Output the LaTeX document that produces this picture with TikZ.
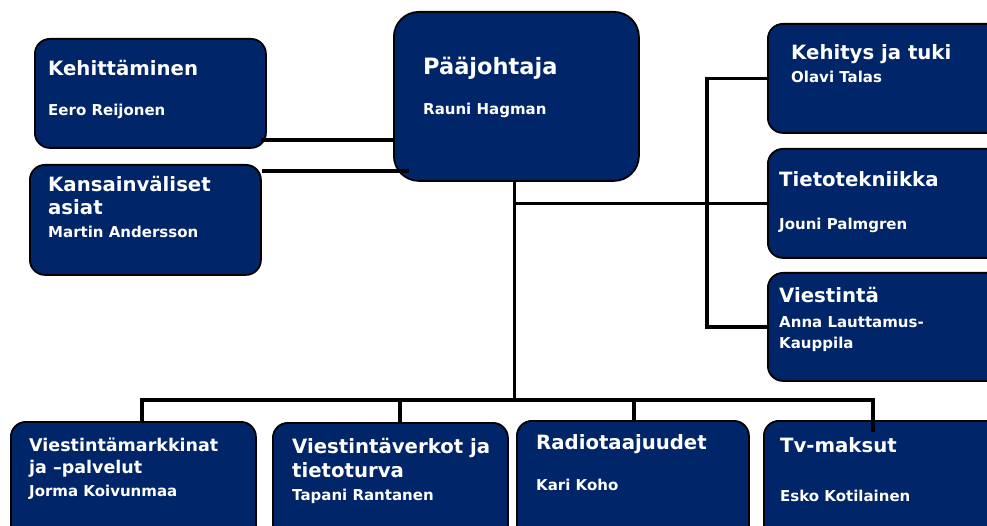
\documentclass[tikz,border=0pt]{standalone}
\usepackage{fontspec}
\setmainfont{DejaVu Sans}
\usetikzlibrary{positioning}
\definecolor{navy}{RGB}{0,37,104}
\tikzset{
  unit/.style={draw=black, line width=1.8pt, fill=navy, rounded corners=15pt,
    anchor=north west, inner sep=0pt},
  head/.style={text=white, font=\bfseries\fontsize{19.7}{23}\selectfont,
    anchor=base west, inner sep=0pt},
  who/.style={text=white, font=\bfseries\fontsize{15}{18}\selectfont,
    anchor=base west, inner sep=0pt},
  link/.style={draw=black, line width=3.6pt}
}
\begin{document}
\begin{tikzpicture}[x=1pt, y=-1pt]
  \clip (0,0) rectangle (987,526);
  \useasboundingbox (0,0) rectangle (987,526);

  % boxes
  \node[unit, minimum width=231pt, minimum height=109pt] (keh) at (34,38) {};
  \node[unit, minimum width=231pt, minimum height=110pt] (kan) at (29,164) {};
  \node[unit, rounded corners=25pt, minimum width=245pt, minimum height=169pt] (pj) at (393,11) {};
  \node[unit, minimum width=240pt, minimum height=109pt] (kt) at (767,23) {};
  \node[unit, minimum width=240pt, minimum height=109pt] (tt) at (767,148) {};
  \node[unit, minimum width=240pt, minimum height=108pt] (vi) at (767,272) {};
  \node[unit, minimum width=245pt, minimum height=120pt] (vm) at (10,421) {};
  \node[unit, minimum width=235pt, minimum height=120pt] (vv) at (272,422) {};
  \node[unit, minimum width=232pt, minimum height=120pt] (rt) at (516,420) {};
  \node[unit, minimum width=240pt, minimum height=120pt] (tv) at (763,420) {};

  % texts
  \node[head] (kehT) at (48,76) {Kehittäminen};
  \node[who] (kehN) at (48,116) {Eero Reijonen};
  \node[head] (kanT1) at (48,192) {Kansainväliset};
  \node[head] (kanT2) at (48,215) {asiat};
  \node[who] (kanN) at (48,238) {Martin Andersson};
  \node[head, font=\bfseries\fontsize{22.5}{26}\selectfont] (pjT) at (423,75) {Pääjohtaja};
  \node[who] (pjN) at (423,115) {Rauni Hagman};
  \node[head] (ktT) at (791,60) {Kehitys ja tuki};
  \node[who] (ktN) at (791,83) {Olavi Talas};
  \node[head] (ttT) at (779,187) {Tietotekniikka};
  \node[who] (ttN) at (779,230) {Jouni Palmgren};
  \node[head] (viT) at (779,303) {Viestintä};
  \node[who] (viN1) at (779,327) {Anna Lauttamus-};
  \node[who] (viN2) at (779,348) {Kauppila};
  \node[head, font=\bfseries\fontsize{17.5}{21}\selectfont] (vmT1) at (29,451) {Viestintämarkkinat};
  \node[head, font=\bfseries\fontsize{17.5}{21}\selectfont] (vmT2) at (29,473) {ja –palvelut};
  \node[who] (vmN) at (29,496) {Jorma Koivunmaa};
  \node[head] (vvT1) at (292,453) {Viestintäverkot ja};
  \node[head] (vvT2) at (292,477) {tietoturva};
  \node[who] (vvN) at (292,500) {Tapani Rantanen};
  \node[head] (rtT) at (536,449) {Radiotaajuudet};
  \node[who] (rtN) at (536,490) {Kari Koho};
  \node[head] (tvT) at (780,452) {Tv-maksut};
  \node[who] (tvN) at (780,501) {Esko Kotilainen};

  % connectors
  \draw[link] ([xshift=-6pt, yshift=9pt]keh.south east) -- ([yshift=9pt]keh.south east -| pj.west);
  \draw[link] ([yshift=-7pt]kan.north east) -- ([yshift=-7pt, xshift=16pt]kan.north east -| pj.west);
  \coordinate (bus) at ([xshift=-2pt]pj.south |- 0,400);
  \draw[link] ([xshift=-2pt]pj.south) -- (bus);
  \draw[link] ([xshift=-2pt]tt.west -| pj.south) -- (tt.west);
  \draw[link] (kt.west) -- ++(-60,0) |- (vi.west);
  \coordinate (d1) at (142,400);
  \coordinate (d2) at (400,400);
  \coordinate (d3) at (634,400);
  \coordinate (d4) at (873,400);
  \draw[link] ([xshift=-1.8pt]d1) -- ([xshift=1.8pt]d4);
  \draw[link] (d1) -- ([yshift=-2pt]d1 |- vm.north);
  \draw[link] (d2) -- ([yshift=-2pt]d2 |- vv.north);
  \draw[link] (d3) -- ([yshift=-2pt]d3 |- rt.north);
  \draw[link] (d4) -- ([yshift=-12pt]d4 |- tv.north);
\end{tikzpicture}
\end{document}
